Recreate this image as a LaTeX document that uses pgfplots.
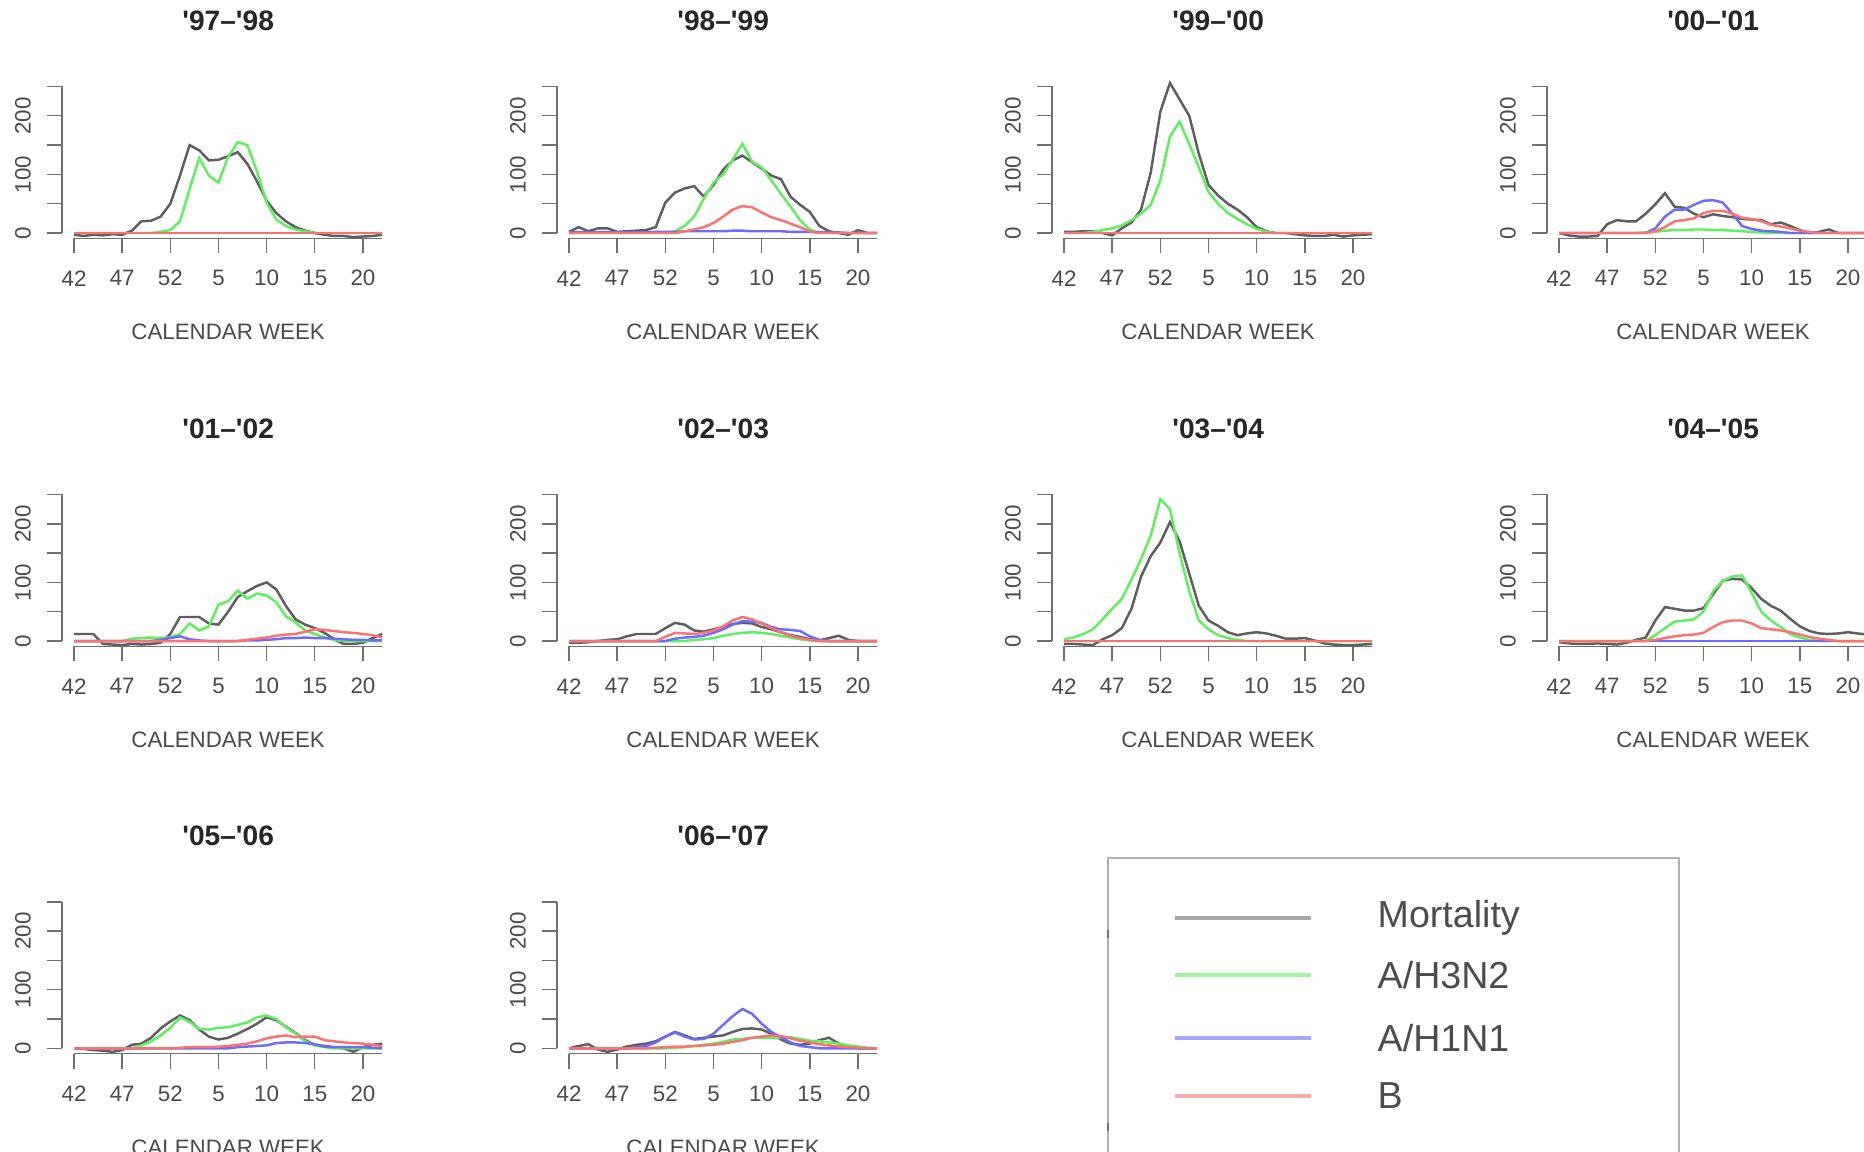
\documentclass[border=0pt]{standalone}
\usepackage{pgfplots}
\pgfplotsset{compat=1.18}
\usepackage{pgfplotstable}
\usepackage{fontspec}
\setmainfont{Liberation Sans}

\definecolor{mort}{HTML}{5E5E5E}
\definecolor{hthree}{HTML}{5CF05C}
\definecolor{hone}{HTML}{6B6BFF}
\definecolor{bflu}{HTML}{FF7070}
\definecolor{axisgray}{HTML}{707070}
\definecolor{txt}{HTML}{4A4A4A}

% Weekly excess mortality and virus-attributed series, weeks 42..52 and 1..22 (w = 0..32)
\pgfplotstableread{
w M H3 H1 B
0 -3 0 0 0
1 -5 0 0 0
2 -3 0 0 0
3 -4 0 0 0
4 -2 0 0 0
5 -3 0 0 0
6 4 0 0 0
7 20 0 0 0
8 21 0 0 0
9 28 2 0 0
10 50 5 0 0
11 98 20 0 0
12 150 75 0 0
13 141 128 0 0
14 124 98 0 0
15 125 86 0 0
16 131 130 0 0
17 138 155 0 0
18 118 150 0 0
19 88 105 0 0
20 55 52 0 0
21 34 23 0 0
22 20 12 0 0
23 10 6 0 0
24 4 3 0 0
25 0 0 0 0
26 -3 0 0 0
27 -5 0 0 0
28 -5 0 0 0
29 -7 0 0 0
30 -6 0 0 0
31 -5 0 0 0
32 -3 0 0 0
}\sA
\pgfplotstableread{
w M H3 H1 B
0 2 0 1 0
1 10 0 1 0
2 3 0 1 0
3 8 0 1 0
4 8 0 1 0
5 2 0 1 0
6 3 0 1 0
7 4 0 1 0
8 5 0 1 0
9 10 0 2 0
10 52 0 2 0
11 69 3 2 0
12 76 12 3 3
13 80 28 3 6
14 62 59 3 10
15 82 86 3 17
16 108 100 3 28
17 124 125 4 40
18 132 152 4 46
19 121 122 3 44
20 110 112 3 35
21 98 90 3 27
22 92 67 3 22
23 62 45 2 16
24 48 22 2 10
25 36 6 2 3
26 12 0 1 0
27 3 0 1 0
28 0 0 1 0
29 -3 0 0 0
30 5 0 0 0
31 0 0 0 0
32 0 0 0 0
}\sB
\pgfplotstableread{
w M H3 H1 B
0 2 0 0 0
1 2 0 0 0
2 3 0 0 0
3 3 2 0 0
4 0 5 0 0
5 -4 8 0 0
6 8 13 0 0
7 18 22 0 0
8 40 33 0 0
9 103 48 0 0
10 207 90 0 0
11 256 165 0 0
12 228 190 0 0
13 200 152 0 0
14 135 112 0 0
15 82 70 0 0
16 64 50 0 0
17 50 34 0 0
18 40 24 0 0
19 27 15 0 0
20 10 7 0 0
21 3 2 0 0
22 0 0 0 0
23 0 0 0 0
24 -2 0 0 0
25 -4 0 0 0
26 -5 0 0 0
27 -5 0 0 0
28 -3 0 0 0
29 -6 0 0 0
30 -4 0 0 0
31 -3 0 0 0
32 -2 0 0 0
}\sC
\pgfplotstableread{
w M H3 H1 B
0 0 0 0 0
1 -4 0 0 0
2 -6 0 0 0
3 -6 0 0 0
4 -5 0 0 0
5 15 0 0 0
6 22 0 0 0
7 20 0 0 0
8 20 0 0 0
9 33 1 0 0
10 49 2 8 3
11 68 4 28 10
12 45 5 40 20
13 43 5 40 22
14 33 6 48 25
15 27 6 55 34
16 32 5 56 38
17 29 5 52 38
18 27 4 33 33
19 24 3 12 26
20 23 2 7 24
21 22 1 4 20
22 15 0 3 14
23 18 0 2 11
24 12 0 0 8
25 5 0 0 4
26 0 0 0 2
27 2 0 0 0
28 6 0 0 0
29 0 0 0 0
30 0 0 0 0
31 0 0 0 0
32 0 0 0 0
}\sD
\pgfplotstableread{
w M H3 H1 B
0 12 0 0 0
1 12 0 0 0
2 12 0 0 0
3 -5 0 0 0
4 -6 0 0 0
5 -7 0 0 0
6 -5 4 0 0
7 -6 5 0 0
8 -5 6 0 0
9 -3 5 2 0
10 12 6 5 0
11 41 12 8 0
12 41 30 3 0
13 41 18 1 0
14 30 25 0 0
15 28 62 0 0
16 50 68 0 0
17 75 86 0 0
18 85 72 1 2
19 94 81 1 4
20 100 78 2 6
21 88 66 3 9
22 60 42 5 11
23 37 32 5 12
24 28 18 6 16
25 22 12 5 20
26 14 6 5 19
27 3 2 4 17
28 -5 0 3 15
29 -5 0 2 14
30 -3 0 2 12
31 5 0 1 10
32 12 0 1 6
}\sE
\pgfplotstableread{
w M H3 H1 B
0 -3 0 0 0
1 -3 0 0 0
2 -2 0 0 0
3 0 0 0 0
4 2 0 0 0
5 3 0 0 0
6 8 0 0 0
7 12 0 0 0
8 12 0 0 0
9 12 0 0 0
10 22 0 0 7
11 31 0 4 14
12 28 0 6 13
13 18 2 7 12
14 16 3 9 14
15 20 5 14 18
16 24 9 20 25
17 29 12 28 35
18 31 14 34 41
19 30 15 33 37
20 24 14 31 30
21 20 12 24 22
22 15 9 20 15
23 10 6 19 9
24 7 3 17 5
25 3 1 8 2
26 1 0 2 0
27 5 0 0 0
28 9 0 0 0
29 2 0 0 0
30 0 0 0 0
31 0 0 0 0
32 0 0 0 0
}\sF
\pgfplotstableread{
w M H3 H1 B
0 -5 3 0 0
1 -5 6 0 0
2 -6 12 0 0
3 -7 20 0 0
4 3 37 0 0
5 10 55 0 0
6 22 72 0 0
7 55 105 0 0
8 110 140 0 0
9 145 180 0 0
10 168 242 0 0
11 203 225 0 0
12 170 150 0 0
13 115 85 0 0
14 60 35 0 0
15 35 20 0 0
16 26 10 0 0
17 15 5 0 0
18 10 2 0 0
19 13 0 0 0
20 15 0 0 0
21 13 0 0 0
22 9 0 0 0
23 4 0 0 0
24 4 0 0 0
25 5 0 0 0
26 1 0 0 0
27 -4 0 0 0
28 -6 0 0 0
29 -7 0 0 0
30 -7 0 0 0
31 -6 0 0 0
32 -5 0 0 0
}\sG
\pgfplotstableread{
w M H3 H1 B
0 -2 0 0 0
1 -4 0 0 0
2 -5 0 0 0
3 -5 0 0 0
4 -4 0 0 0
5 -5 0 0 0
6 -6 0 0 0
7 -3 0 0 0
8 2 0 0 0
9 6 0 0 0
10 35 10 0 2
11 58 22 0 5
12 55 33 0 8
13 52 35 0 10
14 52 37 0 11
15 56 50 0 14
16 80 85 0 24
17 103 103 0 32
18 106 110 0 35
19 105 112 0 35
20 90 82 0 30
21 72 50 0 22
22 60 35 0 20
23 52 24 0 18
24 38 12 0 15
25 25 6 0 11
26 17 2 0 7
27 13 0 0 4
28 12 0 0 2
29 13 0 0 0
30 15 0 0 0
31 13 0 0 0
32 11 0 0 0
}\sH
\pgfplotstableread{
w M H3 H1 B
0 0 0 0 0
1 -1 0 0 0
2 -3 0 0 0
3 -4 0 0 0
4 -6 0 0 0
5 -3 0 0 0
6 6 0 0 0
7 8 5 0 0
8 18 12 0 0
9 34 22 0 0
10 46 35 0 0
11 56 53 0 1
12 48 45 0 2
13 32 33 0 2
14 20 32 0 2
15 15 35 0 3
16 18 36 0 4
17 25 40 2 6
18 33 44 3 8
19 42 53 4 12
20 53 56 5 17
21 48 50 9 20
22 37 36 10 22
23 26 25 10 19
24 14 12 9 20
25 6 5 7 20
26 4 2 3 14
27 2 0 2 12
28 0 0 2 10
29 -6 0 2 9
30 2 0 2 8
31 6 0 1 6
32 8 0 0 4
}\sI
\pgfplotstableread{
w M H3 H1 B
0 0 0 0 0
1 4 0 0 0
2 7 0 0 0
3 -2 0 0 0
4 -6 0 0 0
5 -2 0 0 0
6 3 0 0 0
7 6 0 2 0
8 8 0 4 0
9 12 0 10 1
10 20 0 20 2
11 28 1 27 3
12 22 2 20 3
13 16 4 15 4
14 18 6 16 5
15 20 8 25 6
16 22 11 40 8
17 28 15 55 11
18 33 16 67 14
19 34 18 59 18
20 32 18 42 20
21 25 18 28 22
22 15 18 19 21
23 8 19 10 17
24 6 16 4 13
25 8 13 2 10
26 14 12 0 7
27 18 10 0 5
28 8 8 0 3
29 3 5 0 2
30 0 3 0 1
31 0 1 0 0
32 0 0 0 0
}\sJ

\newcommand{\tickfont}{\fontsize{6.35}{7}\selectfont}

\pgfplotsset{
  panel/.style={
    scale only axis, width=3.202cm, height=1.518cm,
    xmin=-1.25, xmax=32, ymin=-9, ymax=250,
    axis x line*=bottom, axis y line*=left,
    x axis line style={draw=none}, y axis line style={draw=none},
    xtick={0,5,...,30}, xticklabels={42,47,52,5,10,15,20},
    ytick={0,50,...,250}, yticklabels={0,,100,,200,},
    tick align=outside, major tick length=0.15cm,
    tick style={axisgray, line width=0.4pt},
    ticklabel style={font=\tickfont, text=txt, inner sep=0pt},
    xticklabel style={anchor=center}, xticklabel shift=0.25cm,
    yticklabel style={rotate=90, anchor=center}, yticklabel shift=0.24cm,
    clip=false,
  },
  mortline/.style={mort, line width=0.7pt, no markers},
  h3line/.style={hthree, line width=0.7pt, no markers},
  h1line/.style={hone, line width=0.7pt, no markers},
  bline/.style={bflu, line width=0.7pt, no markers},
}

% one season panel: #1,#2 position of the lower left corner, #3 table, #4 title
\newcommand{\season}[4]{%
  \begin{axis}[panel, at={(#1,#2)}, anchor=south west]
    \addplot[mortline] table[x=w,y=M]{#3};
    \addplot[h3line] table[x=w,y=H3]{#3};
    \addplot[h1line] table[x=w,y=H1]{#3};
    \addplot[bline] table[x=w,y=B]{#3};
    \draw[axisgray, line width=0.4pt] (axis cs:0,-9) -- (axis cs:32,-9);
    \draw[axisgray, line width=0.4pt] (axis cs:-1.25,0) -- (axis cs:-1.25,250);
    \node[font=\bfseries\fontsize{8}{9.6}\selectfont, text=black!85, inner sep=0pt]
      at (axis cs:16,250) [yshift=0.66cm] {#4};
    \node[font=\tickfont, text=txt, inner sep=0pt]
      at (axis cs:16,-9) [yshift=-0.94cm] {CALENDAR WEEK};
  \end{axis}}

\newcommand{\q}{\textquotesingle}

\begin{document}
\begin{tikzpicture}
  \useasboundingbox (0,0) rectangle (18.64cm,11.51cm);
  \clip (0,0) rectangle (18.64cm,11.51cm);

  \season{0.62cm}{9.127cm}{\sA}{\q 97–\q 98}
  \season{5.57cm}{9.127cm}{\sB}{\q 98–\q 99}
  \season{10.52cm}{9.127cm}{\sC}{\q 99–\q 00}
  \season{15.47cm}{9.127cm}{\sD}{\q 00–\q 01}

  \season{0.62cm}{5.047cm}{\sE}{\q 01–\q 02}
  \season{5.57cm}{5.047cm}{\sF}{\q 02–\q 03}
  \season{10.52cm}{5.047cm}{\sG}{\q 03–\q 04}
  \season{15.47cm}{5.047cm}{\sH}{\q 04–\q 05}

  \season{0.62cm}{0.974cm}{\sI}{\q 05–\q 06}
  \season{5.57cm}{0.974cm}{\sJ}{\q 06–\q 07}

  % legend box
  \draw[gray!60, line width=0.02cm] (11.08cm,2.93cm) rectangle (16.79cm,-0.5cm);
  \draw[black!55, line width=0.02cm] (11.08cm,2.13cm) -- (11.08cm,2.21cm);
  \draw[black!55, line width=0.02cm] (11.08cm,0.20cm) -- (11.08cm,0.28cm);
  \begin{scope}[line width=1pt]
    \draw[mort!55!white]   (11.75cm,2.33cm) -- (13.11cm,2.33cm);
    \draw[hthree!60!white] (11.75cm,1.76cm) -- (13.11cm,1.76cm);
    \draw[hone!60!white]   (11.75cm,1.13cm) -- (13.11cm,1.13cm);
    \draw[bflu!60!white]   (11.75cm,0.55cm) -- (13.11cm,0.55cm);
  \end{scope}
  \begin{scope}[every node/.style={anchor=west, inner sep=0pt, text=black!70,
      font=\fontsize{10.7}{12.8}\selectfont}]
    \node at (13.77cm,2.33cm) {Mortality};
    \node at (13.77cm,1.76cm) {A/H3N2};
    \node at (13.77cm,1.13cm) {A/H1N1};
    \node at (13.77cm,0.55cm) {B};
  \end{scope}
\end{tikzpicture}
\end{document}
